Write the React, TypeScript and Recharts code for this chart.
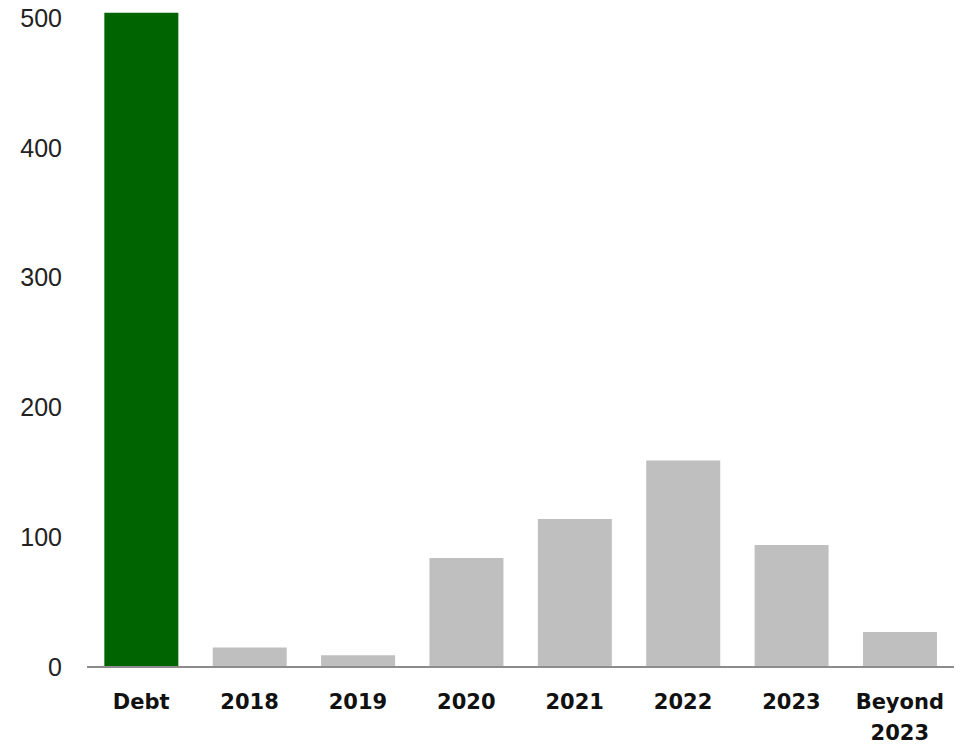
import { BarChart, Bar, XAxis, YAxis, Cell } from "recharts";

const categories = ["Debt", "2018", "2019", "2020", "2021", "2022", "2023", "Beyond 2023"];
const values = [504, 15, 9, 84, 114, 159, 94, 27];
const barColors = ["#006400", "#bfbfbf", "#bfbfbf", "#bfbfbf", "#bfbfbf", "#bfbfbf", "#bfbfbf", "#bfbfbf"];
const yTicks = [0, 100, 200, 300, 400, 500];

const data = categories.map((name, i) => ({ name, value: values[i] }));

const LABEL_FONT = "'Century Gothic', 'DejaVu Sans', sans-serif";
const TICK_FONT = "'Century Gothic', 'Liberation Sans', sans-serif";

function CategoryTick(props: any) {
  const { x, y, payload } = props;
  const words = String(payload.value).split(" ");
  return (
    <text x={x} y={y} textAnchor="middle" fontFamily={LABEL_FONT} fontWeight="bold" fontSize={21} fill="#111">
      {words.map((w: string, i: number) => (
        <tspan key={i} x={x} dy={i === 0 ? 34 : 31}>
          {w}
        </tspan>
      ))}
    </text>
  );
}

export default function App() {
  return (
    <div style={{ position: "absolute", left: 0, top: 0, background: "#fff" }}>
      <BarChart
        width={967}
        height={746}
        data={data}
        margin={{ top: 5, right: 13, bottom: 9, left: 17 }}
        barCategoryGap="16%"
      >
        <XAxis
          dataKey="name"
          height={70}
          tickLine={false}
          axisLine={{ stroke: "#8c8c8c", strokeWidth: 2 }}
          tick={<CategoryTick />}
          interval={0}
        />
        <YAxis
          width={70}
          domain={[0, 510]}
          ticks={yTicks}
          axisLine={false}
          tickLine={false}
          tickMargin={19}
          tick={{ fontFamily: TICK_FONT, fontSize: 25, fill: "#222" }}
        />
        <Bar dataKey="value" isAnimationActive={false}>
          {data.map((d, i) => (
            <Cell key={d.name} fill={barColors[i]} />
          ))}
        </Bar>
      </BarChart>
    </div>
  );
}
